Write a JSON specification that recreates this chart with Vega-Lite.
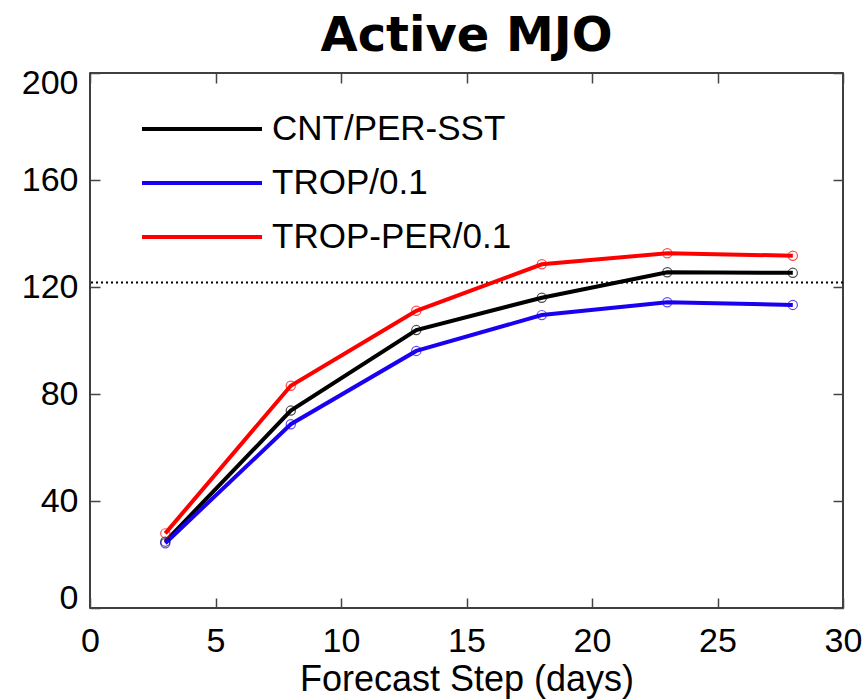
{
  "$schema": "https://vega.github.io/schema/vega-lite/v6.json",
  "width": 753,
  "height": 535,
  "autosize": "none",
  "padding": {"left": 90, "top": 73, "right": 22, "bottom": 91},
  "background": "white",
  "title": {"text": "Active MJO", "font": "DejaVu Sans", "fontSize": 48, "fontWeight": "bold", "color": "black", "offset": 5, "anchor": "middle"},
  "config": {
    "view": {"stroke": "black", "strokeWidth": 1.5},
    "axis": {"grid": false, "domain": false, "tickColor": "#444", "tickWidth": 1.5, "tickSize": -10, "labelFont": "Liberation Sans", "labelFontSize": 34, "labelColor": "black", "titleFont": "Liberation Sans", "titleFontSize": 36, "titleFontWeight": "normal", "titleColor": "black"}
  },
  "data": {"values": [
    {"step": 3, "value": 24.8, "run": "CNT/PER-SST"},
    {"step": 8, "value": 73.8, "run": "CNT/PER-SST"},
    {"step": 13, "value": 103.9, "run": "CNT/PER-SST"},
    {"step": 18, "value": 116.0, "run": "CNT/PER-SST"},
    {"step": 23, "value": 125.5, "run": "CNT/PER-SST"},
    {"step": 28, "value": 125.3, "run": "CNT/PER-SST"},
    {"step": 3, "value": 24.2, "run": "TROP/0.1"},
    {"step": 8, "value": 68.7, "run": "TROP/0.1"},
    {"step": 13, "value": 96.1, "run": "TROP/0.1"},
    {"step": 18, "value": 109.5, "run": "TROP/0.1"},
    {"step": 23, "value": 114.3, "run": "TROP/0.1"},
    {"step": 28, "value": 113.3, "run": "TROP/0.1"},
    {"step": 3, "value": 27.9, "run": "TROP-PER/0.1"},
    {"step": 8, "value": 83.1, "run": "TROP-PER/0.1"},
    {"step": 13, "value": 111.1, "run": "TROP-PER/0.1"},
    {"step": 18, "value": 128.5, "run": "TROP-PER/0.1"},
    {"step": 23, "value": 132.6, "run": "TROP-PER/0.1"},
    {"step": 28, "value": 131.7, "run": "TROP-PER/0.1"}
  ]},
  "resolve": {"axis": {"x": "independent", "y": "independent"}},
  "layer": [
    {
      "data": {"values": [{"ref": 121.7}]},
      "mark": {"type": "rule", "color": "black", "strokeWidth": 2, "strokeDash": [2, 3]},
      "encoding": {"y": {"field": "ref", "type": "quantitative", "scale": {"domain": [0, 200], "nice": false}, "axis": null}}
    },
    {
      "mark": {"type": "line", "strokeWidth": 4},
      "encoding": {
        "x": {"field": "step", "type": "quantitative", "scale": {"domain": [0, 30], "nice": false}, "axis": {"orient": "bottom", "values": [0, 5, 10, 15, 20, 25, 30], "title": "Forecast Step (days)", "labelPadding": 26, "titlePadding": 4, "labelFlush": false}},
        "y": {"field": "value", "type": "quantitative", "scale": {"domain": [0, 200], "nice": false}, "axis": {"orient": "left", "values": [0, 40, 80, 120, 160, 200], "title": null, "labelPadding": 22, "labelFlush": true, "labelFlushOffset": 7}},
        "color": {"field": "run", "type": "nominal", "scale": {"domain": ["CNT/PER-SST", "TROP/0.1", "TROP-PER/0.1"], "range": ["#000000", "#1a00f0", "#ff0000"]},
          "legend": {"title": null, "orient": "none", "legendX": 90, "legendY": 34, "padding": 0, "symbolType": "M-3,0H3", "symbolSize": 1600, "symbolStrokeWidth": 4, "labelFont": "Liberation Sans", "labelFontSize": 35, "labelColor": "black", "labelLimit": 0, "rowPadding": 14, "labelOffset": 48, "symbolOffset": 0}}
      }
    },
    {
      "mark": {"type": "point", "filled": false, "size": 85, "strokeWidth": 1.2},
      "encoding": {
        "x": {"field": "step", "type": "quantitative", "axis": {"orient": "top", "values": [0, 5, 10, 15, 20, 25, 30], "labels": false, "title": null}},
        "y": {"field": "value", "type": "quantitative", "axis": {"orient": "right", "values": [0, 40, 80, 120, 160, 200], "labels": false, "title": null}},
        "color": {"field": "run", "type": "nominal", "legend": null}
      }
    }
  ]
}
